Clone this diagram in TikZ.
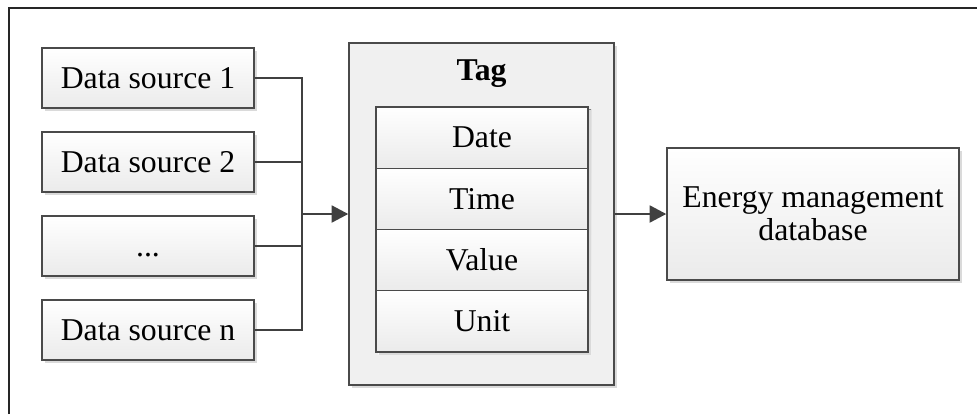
\documentclass[tikz,border=0pt]{standalone}
\usepackage{fontspec}
\setmainfont{Liberation Serif}
\usetikzlibrary{arrows.meta,shadows}

\definecolor{edge}{HTML}{4A4A4A}
\definecolor{wire}{HTML}{404040}
\definecolor{shade}{HTML}{DADADA}
\definecolor{panel}{HTML}{F0F0F0}

\tikzset{
  box/.style={draw=edge, line width=1pt, rectangle, inner sep=0pt,
    top color=white, bottom color=gray!16, align=center,
    font=\fontsize{23.8}{27}\selectfont,
    drop shadow={shadow xshift=2.6pt, shadow yshift=-2.6pt, fill=shade, opacity=1}},
  srcbox/.style={box, minimum width=159pt, minimum height=45pt},
  fieldbox/.style={box, minimum width=159pt, minimum height=45.9pt, drop shadow={shadow xshift=2.6pt, shadow yshift=-2.6pt, fill=shade, opacity=0}},
  wireline/.style={draw=wire, line width=2.2pt},
  flow/.style={wireline, -{Triangle[length=12.5pt, width=12.5pt]}},
}

\begin{document}
\begin{tikzpicture}[x=0.75pt, y=-0.75pt]
  \useasboundingbox (0,0) rectangle (977,414);
  % outer frame (open to the right and bottom)
  \draw[line width=1.6pt, black!85] (9,414) -- (9,8) -- (977,8);

  % data sources
  \node[srcbox] (d1) at (148,78) {Data source 1};
  \node[srcbox] (d2) at (148,162) {Data source 2};
  \node[srcbox] (d3) at (148,246) {\vphantom{Data source}...};
  \node[srcbox] (dn) at (148,330) {Data source n};

  % tag record
  \node[draw=edge, line width=1pt, fill=panel, minimum width=198.75pt, minimum height=256.5pt,
        drop shadow={shadow xshift=2.6pt, shadow yshift=-2.6pt, fill=shade, opacity=1}] (tag) at (481.5,214) {};
  \node[font=\fontsize{23.8}{27}\selectfont\bfseries] (taglabel) at (481.5,74) {Tag};
  \fill[shade] (378.5,109.5) rectangle (591,354.5);
  \node[fieldbox] (date)  at (482,137.6) {Date};
  \node[fieldbox] (time)  at (482,198.9) {Time};
  \node[fieldbox] (value) at (482,260.1) {Value};
  \node[fieldbox] (unit)  at (482,321.4) {Unit};

  % target
  \node[srcbox, minimum width=219pt, minimum height=99pt] (db) at (813,214) {Energy management\\[-2pt]database};

  % collecting bus
  \coordinate (bus) at (302,214);
  \draw[wireline] (d1.east) -- (d1.east -| bus) -- (dn.east -| bus) -- (dn.east);
  \draw[wireline] (d2.east) -- (d2.east -| bus);
  \draw[wireline] (d3.east) -- (d3.east -| bus);
  \draw[flow] (bus) -- (tag.west);
  \draw[flow] (tag.east) -- (db.west);
\end{tikzpicture}
\end{document}
